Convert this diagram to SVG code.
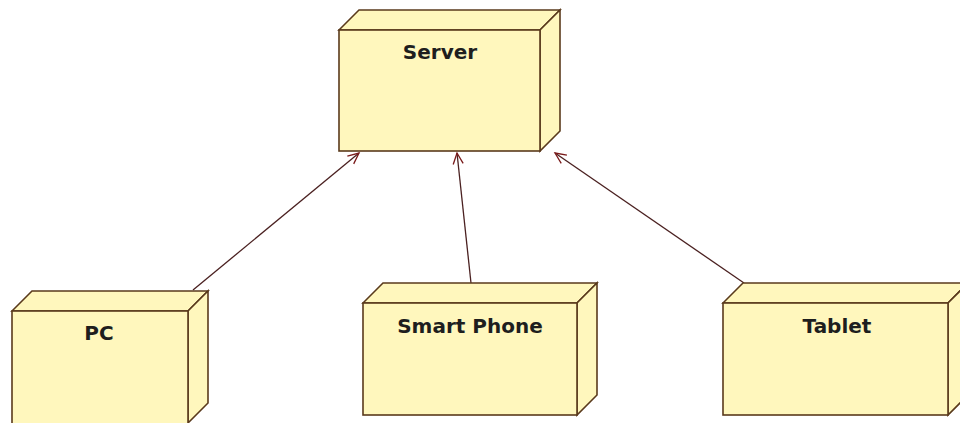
<svg xmlns="http://www.w3.org/2000/svg" width="960" height="423" viewBox="0 0 960 423">
<style>
.face{fill:#fff7bd;stroke:#5a3a1c;stroke-width:1.6;stroke-linejoin:miter}
.lbl{font-family:"DejaVu Sans","Verdana",sans-serif;font-weight:bold;font-size:20px;fill:#1e1e1e;text-anchor:middle}
.conn{stroke:#4a2020;stroke-width:1.3;fill:none}
</style>
<defs>
<marker id="open" markerWidth="14" markerHeight="14" refX="12" refY="6" orient="auto" markerUnits="userSpaceOnUse">
<path d="M1,1 L12,6 L1,11" fill="none" stroke="#7a1a1a" stroke-width="1.3"/>
</marker>
</defs>
<rect width="960" height="423" fill="#ffffff"/>
<g id="connectors">
<line class="conn" x1="193" y1="290" x2="359" y2="153" marker-end="url(#open)"/>
<line class="conn" x1="471" y1="283" x2="457" y2="153" marker-end="url(#open)"/>
<line class="conn" x1="744" y1="283" x2="555" y2="153" marker-end="url(#open)"/>
</g>
<g id="server">
<path class="face" d="M339,30 L359,10 L560,10 L540,30 Z"/>
<path class="face" d="M540,30 L560,10 L560,131 L540,151 Z"/>
<rect class="face" x="339" y="30" width="201" height="121"/>
<text class="lbl" x="440" y="59">Server</text>
</g>
<g id="pc">
<path class="face" d="M12,311 L32,291 L208,291 L188,311 Z"/>
<path class="face" d="M188,311 L208,291 L208,403 L188,423 Z"/>
<rect class="face" x="12" y="311" width="176" height="113"/>
<text class="lbl" x="99" y="340">PC</text>
</g>
<g id="smartphone">
<path class="face" d="M363,303 L383,283 L597,283 L577,303 Z"/>
<path class="face" d="M577,303 L597,283 L597,395 L577,415 Z"/>
<rect class="face" x="363" y="303" width="214" height="112"/>
<text class="lbl" x="470" y="333">Smart Phone</text>
</g>
<g id="tablet">
<path class="face" d="M723,303 L743,283 L968,283 L948,303 Z"/>
<path class="face" d="M948,303 L968,283 L968,395 L948,415 Z"/>
<rect class="face" x="723" y="303" width="225" height="112"/>
<text class="lbl" x="837" y="333">Tablet</text>
</g>
</svg>
